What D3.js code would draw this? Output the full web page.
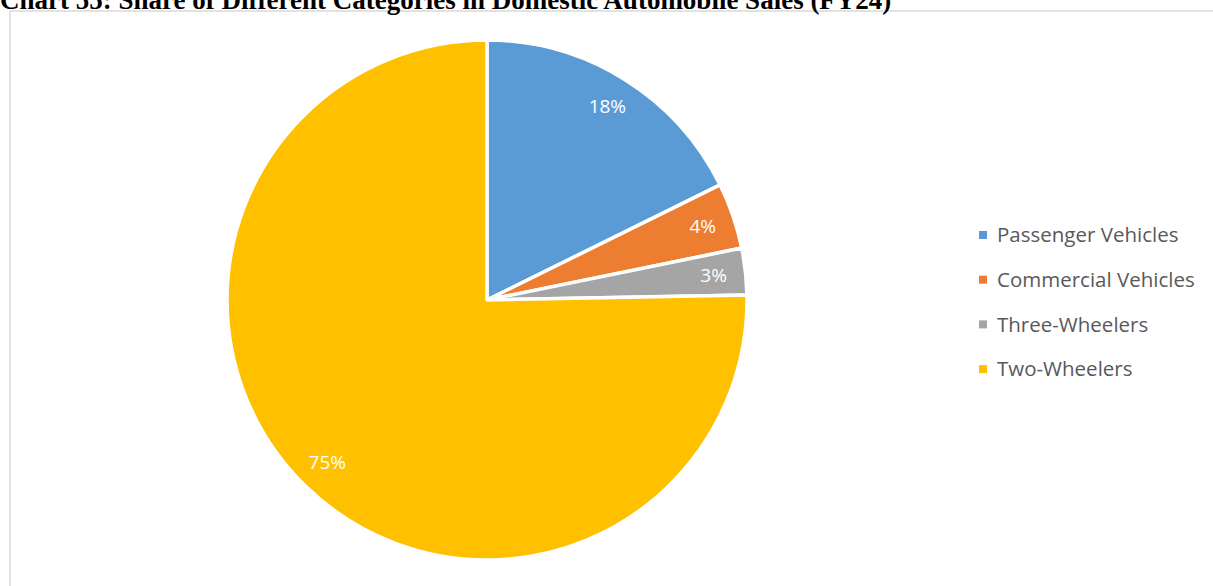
<!DOCTYPE html>
<meta charset="utf-8">
<head>
<style>
body { margin: 0; background: #fff; overflow: hidden; }
.title { font-family: "Liberation Serif", "Times New Roman", serif; font-weight: bold; font-size: 27px; fill: #000; }
.slice-label { font-family: "Open Sans", sans-serif; font-size: 19px; fill: #fff; text-anchor: middle; }
.legend text { font-family: "Open Sans", sans-serif; font-size: 20.5px; fill: #595959; }
</style>
<script src="https://d3js.org/d3.v7.min.js"></script>
</head>
<body>
<svg width="1213" height="586"></svg>
<script>

var categories = ["Passenger Vehicles", "Commercial Vehicles", "Three-Wheelers", "Two-Wheelers"];
var shares = [17.7, 4.1, 2.9, 75.3];
var labels = ["18%", "4%", "3%", "75%"];
var colors = ["#5B9BD5", "#ED7D31", "#A5A5A5", "#FFC000"];

var svg = d3.select("svg"),
    width = +svg.attr("width"),
    height = +svg.attr("height");

// chart frame (runs off right and bottom)
svg.append("rect")
    .attr("x", 10)
    .attr("y", 11)
    .attr("width", 1220)
    .attr("height", 600)
    .attr("fill", "none")
    .attr("stroke", "#d9d9d9")
    .attr("stroke-width", 1.5);

// title sits mostly above the top edge, as in the source
svg.append("text")
    .attr("class", "title")
    .attr("x", 0)
    .attr("y", 9)
    .text("Chart 55: Share of Different Categories in Domestic Automobile Sales (FY24)");

var cx = 487, cy = 300, radius = 260;

var data = categories.map(function(c, i) {
  return { name: c, value: shares[i], label: labels[i], color: colors[i] };
});

var pie = d3.pie()
    .sort(null)
    .value(function(d) { return d.value; });

var arc = d3.arc().innerRadius(0).outerRadius(radius);
var labelArc = d3.arc().innerRadius(228).outerRadius(228);

var g = svg.append("g")
    .attr("transform", "translate(" + cx + "," + cy + ")");

var arcs = pie(data);

g.selectAll("path")
  .data(arcs)
  .enter().append("path")
    .attr("d", arc)
    .attr("fill", function(d) { return d.data.color; })
    .attr("stroke", "#fff")
    .attr("stroke-width", 3.5)
    .attr("stroke-linejoin", "round");

g.selectAll(".slice-label")
  .data(arcs)
  .enter().append("text")
    .attr("class", "slice-label")
    .attr("transform", function(d) { return "translate(" + labelArc.centroid(d) + ")"; })
    .attr("dy", ".35em")
    .text(function(d) { return d.data.label; });

var legend = svg.append("g")
    .attr("class", "legend")
    .attr("transform", "translate(979,235)");

var item = legend.selectAll("g")
  .data(data)
  .enter().append("g")
    .attr("transform", function(d, i) { return "translate(0," + (i * 44.7) + ")"; });

item.append("rect")
    .attr("x", 0)
    .attr("y", -4)
    .attr("width", 8)
    .attr("height", 8)
    .attr("fill", function(d) { return d.color; });

item.append("text")
    .attr("x", 18)
    .attr("dy", ".35em")
    .text(function(d) { return d.name; });

</script>
</body>
